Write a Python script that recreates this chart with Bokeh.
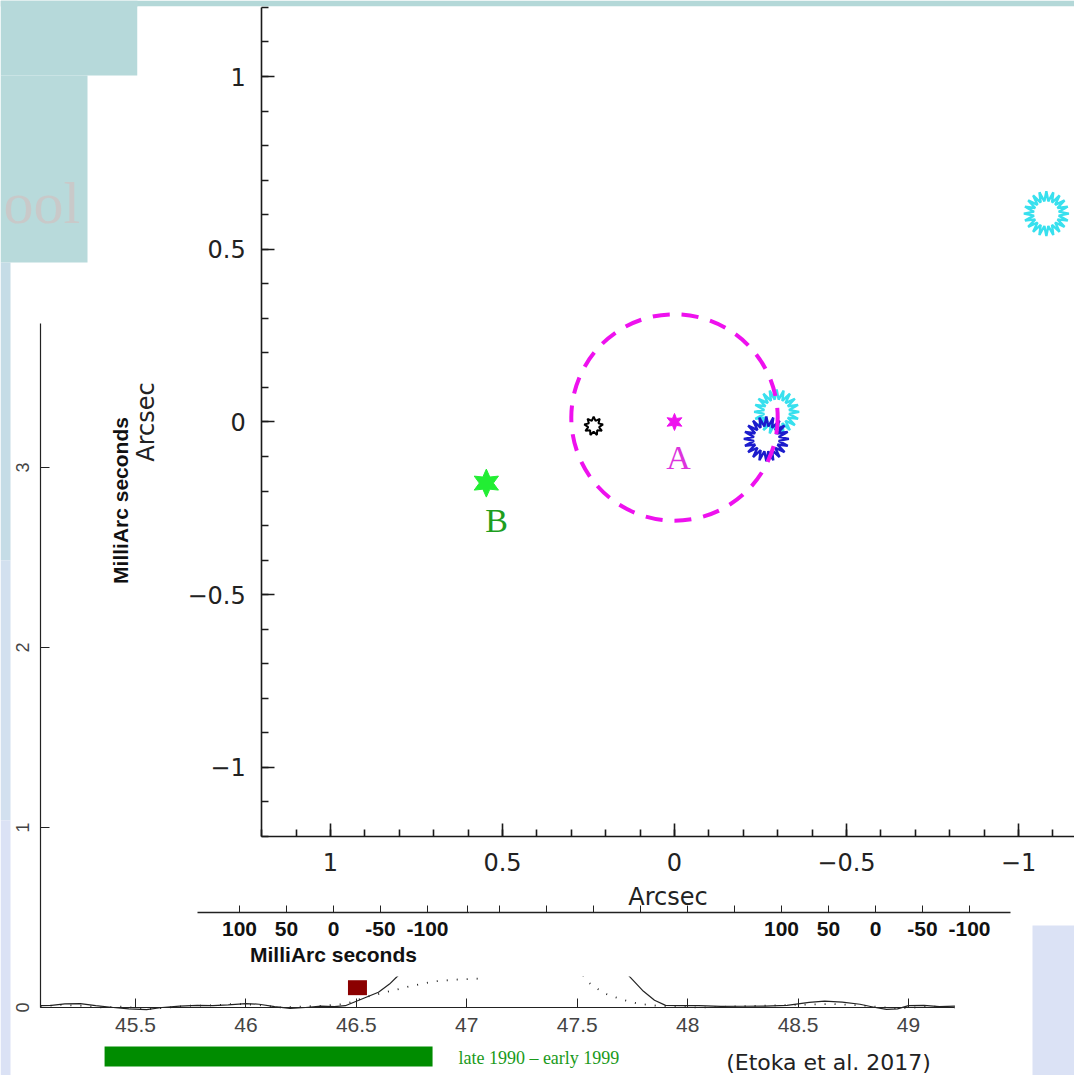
import numpy as np
from bokeh.plotting import figure
from bokeh.models import Range1d, LinearAxis, FixedTicker, Label
from bokeh.core.properties import value
from bokeh.embed import file_html
from bokeh.resources import INLINE

# ---------------- data ----------------
# Main map: offsets in arcsec (RA increases to the left)
star_a_x = [0.0]
star_a_y = [0.0]
star_b_x = [0.547]
star_b_y = [-0.177]
black_x = [0.235]
black_y = [-0.012]
cyan_x = [-0.297, -1.081]
cyan_y = [0.029, 0.603]
blue_x = [-0.267]
blue_y = [-0.049]
ring_x = [0.0]
ring_y = [0.013]
ring_r = [0.30]
label_names = ["A", "B"]
label_x = [-0.012, 0.517]
label_y = [-0.103, -0.285]

main_ticks = [-1.0, -0.5, 0.0, 0.5, 1.0]
main_tick_labels = ["\u22121", "\u22120.5", "0", "0.5", "1"]
main_minor = [round(-1.2 + 0.1 * i, 1) for i in range(25)]

# Background spectrum (velocity vs flux)
solid_v = [45.07, 45.12, 45.18, 45.25, 45.32, 45.40, 45.47, 45.55, 45.62, 45.70,
           45.78, 45.85, 45.92, 46.00, 46.06, 46.13, 46.20, 46.27, 46.34, 46.40,
           46.45, 46.50, 46.55, 46.60, 46.65, 46.70, 46.80, 46.90, 47.00, 47.10,
           47.20, 47.30, 47.40, 47.50, 47.60, 47.70, 47.75, 47.80, 47.85, 47.90,
           47.97, 48.05, 48.15, 48.25, 48.35, 48.45, 48.55, 48.62, 48.70, 48.78,
           48.85, 48.90, 48.95, 49.00, 49.07, 49.14, 49.21]
solid_f = [0.010, 0.012, 0.020, 0.022, 0.010, 0.000, -0.008, -0.012, 0.000, 0.008,
           0.012, 0.010, 0.015, 0.022, 0.018, 0.005, -0.005, 0.000, 0.008, 0.005,
           0.010, 0.035, 0.060, 0.085, 0.130, 0.190, 0.900, 2.000, 2.900, 3.400,
           3.300, 2.600, 1.700, 1.000, 0.550, 0.220, 0.155, 0.090, 0.040, 0.012,
           0.010, 0.010, 0.006, 0.007, 0.008, 0.012, 0.028, 0.035, 0.030, 0.018,
           0.000, -0.010, -0.008, 0.010, 0.012, 0.005, 0.008]
dot_v = [45.07, 45.15, 45.25, 45.35, 45.45, 45.55, 45.65, 45.75, 45.85, 45.95,
         46.05, 46.15, 46.25, 46.35, 46.45, 46.55, 46.65, 46.75, 46.85, 46.95,
         47.05, 47.15, 47.25, 47.35, 47.45, 47.55, 47.62, 47.70, 47.78, 47.86,
         47.95, 48.05, 48.20, 48.35, 48.50, 48.65, 48.80, 48.95, 49.10, 49.21]
dot_f = [0.005, 0.015, 0.010, 0.000, 0.005, -0.010, 0.000, 0.010, 0.012, 0.020,
         0.015, 0.000, 0.005, 0.010, 0.020, 0.060, 0.090, 0.120, 0.145, 0.155,
         0.160, 0.250, 0.400, 0.450, 0.300, 0.140, 0.080, 0.045, 0.020, 0.010,
         0.005, 0.000, 0.005, 0.010, 0.015, 0.020, 0.010, -0.005, 0.005, 0.000]
epoch_v = [46.505]
epoch_f = [0.11]
span_start = [45.36]
span_end = [46.845]
span_label = "late 1990 \u2013 early 1999"

spec_x_ticks = [45.5, 46.0, 46.5, 47.0, 47.5, 48.0, 48.5, 49.0]
spec_x_labels = ["45.5", "46", "46.5", "47", "47.5", "48", "48.5", "49"]
spec_y_ticks = [0, 1, 2, 3]

mas1_ticks = [100, 50, 0, -50, -100]
mas2_ticks = [400, 350, 300, 250, 200, 150, 100, 50, 0, -50, -100]
mas_shown = {100: "100", 50: "50", 0: "0", -50: "-50", -100: "-100"}

# ---------------- figure ----------------
W, H = 1074, 1075
p = figure(width=W, height=H, output_backend="svg", toolbar_location=None,
           x_axis_location=None, y_axis_location=None, min_border=0,
           x_range=Range1d(1.9593, -1.1628), y_range=Range1d(-1.8918, 1.2200))
p.outline_line_color = None
p.background_fill_color = "white"
p.border_fill_color = "white"
p.grid.visible = False

p.extra_x_ranges = {
    "px": Range1d(0, 1074),
    "spx": Range1d(44.8888, 49.7515),
    "mas1": Range1d(354.26, -788.3),
    "mas2": Range1d(930.85, -211.7),
}
p.extra_y_ranges = {
    "px": Range1d(1075, 0),
    "spy": Range1d(-0.3778, 5.5944),
}

# background slide decorations
p.quad(left=[0, 0, 0, 0, 0, 0], right=[1074, 137, 87, 10, 10, 10],
       top=[0, 0, 75, 262, 560, 820], bottom=[6, 75, 262, 560, 820, 1075],
       fill_color=["#b4d8d8", "#b6d9da", "#b8dadb", "#c5dce6", "#d2e0ef", "#dbe2f5"],
       line_color=None, x_range_name="px", y_range_name="px")
p.add_layout(Label(x=3, y=202, text="ool", text_align="left", text_baseline="alphabetic",
                   text_font="Liberation Serif", text_font_size="60px", text_color="#c9c9c9",
                   x_range_name="px", y_range_name="px"))

# spectrum
p.line(solid_v, solid_f, line_color="#222222", line_width=1.2,
       x_range_name="spx", y_range_name="spy")
p.line(dot_v, dot_f, line_color="#222222", line_width=1.8, line_dash="1 9",
       x_range_name="spx", y_range_name="spy")
p.rect(x=epoch_v, y=epoch_f, width=0.086, height=0.083, fill_color="#8b0000",
       line_color=None, x_range_name="spx", y_range_name="spy")
p.quad(left=span_start, right=span_end, top=[-0.217], bottom=[-0.328],
       fill_color="#008c00", line_color=None, x_range_name="spx", y_range_name="spy")
p.text(x=[46.962], y=[-0.278], text=[span_label], text_font=value("Liberation Serif"),
       text_font_size="18px", text_color="#1a9a1a", text_baseline="middle",
       x_range_name="spx", y_range_name="spy")

sp_left = LinearAxis(x_range_name="spx", y_range_name="spy", fixed_location=45.07,
                     bounds=(0, 3.8), ticker=FixedTicker(ticks=spec_y_ticks, minor_ticks=[]))
sp_bottom = LinearAxis(x_range_name="spx", y_range_name="spy", fixed_location=0,
                       bounds=(45.07, 49.21),
                       ticker=FixedTicker(ticks=spec_x_ticks, minor_ticks=[]))
sp_bottom.major_label_overrides = dict(zip(spec_x_ticks, spec_x_labels))
for ax in (sp_left, sp_bottom):
    ax.axis_line_color = "#222222"
    ax.axis_line_width = 1.2
    ax.major_tick_in = 9
    ax.major_tick_out = 0
    ax.major_tick_line_color = "#222222"
    ax.minor_tick_line_color = None
    ax.major_label_text_font = "Liberation Sans"
    ax.major_label_text_color = "#444444"
sp_left.major_label_orientation = "vertical"
sp_left.major_label_text_font_size = "18px"
sp_left.major_label_standoff = 12
sp_bottom.major_label_text_font_size = "21px"
sp_bottom.major_label_standoff = 11
p.add_layout(sp_left, "left")
p.add_layout(sp_bottom, "below")

# white panel of the map image, and the slide's lavender box
p.quad(left=[137], right=[1074], top=[6], bottom=[976], fill_color="white",
       line_color=None, x_range_name="px", y_range_name="px")
p.quad(left=[1032], right=[1074], top=[925], bottom=[1075], fill_color="#dbe2f5",
       line_color=None, x_range_name="px", y_range_name="px")

# MilliArc seconds axes (background maps)
mas1 = LinearAxis(x_range_name="mas1", y_range_name="px", fixed_location=912,
                  bounds=(-145, 145), ticker=FixedTicker(ticks=mas1_ticks + [-143], minor_ticks=[]),
                  axis_label="MilliArc seconds")
mas1.major_label_overrides = {t: mas_shown.get(t, "") for t in mas1_ticks + [-143]}
mas2 = LinearAxis(x_range_name="mas2", y_range_name="px", fixed_location=912,
                  bounds=(-143.6, 432), ticker=FixedTicker(ticks=mas2_ticks, minor_ticks=[]))
mas2.major_label_overrides = {t: mas_shown.get(t, "") for t in mas2_ticks}
for ax in (mas1, mas2):
    ax.axis_line_color = "#222222"
    ax.axis_line_width = 1.3
    ax.major_tick_in = 7
    ax.major_tick_out = 0
    ax.major_tick_line_color = "#222222"
    ax.minor_tick_line_color = None
    ax.major_label_text_font = "Liberation Sans"
    ax.major_label_text_font_style = "bold"
    ax.major_label_text_font_size = "21px"
    ax.major_label_text_color = "#111111"
    ax.major_label_standoff = 9
    ax.axis_label_text_font = "Liberation Sans"
    ax.axis_label_text_font_style = "bold"
    ax.axis_label_text_font_size = "21px"
    ax.axis_label_text_color = "#111111"
    ax.axis_label_standoff = 4
p.add_layout(mas1, "below")
p.add_layout(mas2, "below")
p.add_layout(Label(x=120, y=500, text="MilliArc seconds", angle=np.pi / 2,
                   text_align="center", text_baseline="middle", text_font="Liberation Sans",
                   text_font_style="bold", text_font_size="21px", text_color="#111111",
                   x_range_name="px", y_range_name="px"))

# ---------------- main map ----------------
SX, SY = 344.0, 345.5  # px per arcsec, used only for marker shapes


def star_shape(xs, ys, n, r_out, r_in, rot=np.pi / 2):
    out_x, out_y = [], []
    k = np.arange(2 * n + 1)
    t = rot + k * np.pi / n
    r = np.where(k % 2 == 0, r_out, r_in)
    for cx, cy in zip(xs, ys):
        out_x.append(list(cx - r * np.cos(t) / SX))
        out_y.append(list(cy + r * np.sin(t) / SY))
    return out_x, out_y


bx, by = star_shape(black_x, black_y, 9, 9.5, 5.5)
p.patches(bx, by, fill_color=None, line_color="black", line_width=2)

cx_, cy_ = star_shape(cyan_x, cyan_y, 20, 22.5, 12.5)
p.patches(cx_, cy_, fill_color=None, line_color="#38e0ee", line_width=2.4)

ux, uy = star_shape(blue_x, blue_y, 20, 22.5, 12.5)
p.patches(ux, uy, fill_color=None, line_color="#1c1ccc", line_width=2.4)

gx, gy = star_shape(star_b_x, star_b_y, 6, 14, 7)
p.patches(gx, gy, fill_color="#22ee33", line_color="#22ee33", line_width=1)

mx, my = star_shape(star_a_x, star_a_y, 6, 8.5, 4)
p.patches(mx, my, fill_color="#ee11ee", line_color="#ee11ee", line_width=1)

p.circle(x=ring_x, y=ring_y, radius=ring_r, fill_color=None, line_color="#ee11ee",
         line_width=4, line_dash="17 12")

p.text(x=label_x, y=label_y, text=label_names, text_font=value("Liberation Serif"),
       text_font_size="34px", text_color=["#dd33dd", "#1e9e1e"],
       text_align="center", text_baseline="middle")

m_left = LinearAxis(fixed_location=1.2, bounds=(-1.2, 1.2), axis_label="Arcsec",
                    ticker=FixedTicker(ticks=main_ticks, minor_ticks=main_minor))
m_bottom = LinearAxis(fixed_location=-1.2, bounds=(-1.2, 1.2), axis_label="Arcsec",
                      ticker=FixedTicker(ticks=main_ticks, minor_ticks=main_minor))
for ax in (m_left, m_bottom):
    ax.major_label_overrides = dict(zip(main_ticks, main_tick_labels))
    ax.axis_line_color = "#1a1a1a"
    ax.axis_line_width = 1.6
    ax.major_tick_in = 13
    ax.major_tick_out = 0
    ax.minor_tick_in = 7
    ax.minor_tick_out = 0
    ax.major_tick_line_color = "#1a1a1a"
    ax.minor_tick_line_color = "#1a1a1a"
    ax.major_tick_line_width = 1.6
    ax.minor_tick_line_width = 1.6
    ax.major_label_text_font = "DejaVu Sans"
    ax.major_label_text_font_size = "24px"
    ax.major_label_text_color = "#222222"
    ax.axis_label_text_font = "DejaVu Sans"
    ax.axis_label_text_font_size = "24px"
    ax.axis_label_text_font_style = "normal"
    ax.axis_label_text_color = "#222222"
m_left.major_label_standoff = 16
m_left.axis_label_standoff = 24
m_bottom.major_label_standoff = 16
m_bottom.axis_label_standoff = 9
p.add_layout(m_left, "left")
p.add_layout(m_bottom, "below")

p.add_layout(Label(x=828, y=1062, text="(Etoka et al. 2017)", text_align="center",
                   text_baseline="middle", text_font="DejaVu Sans", text_font_size="22px",
                   text_color="#222222", x_range_name="px", y_range_name="px"))

open("out.html", "w").write(file_html(p, INLINE))
